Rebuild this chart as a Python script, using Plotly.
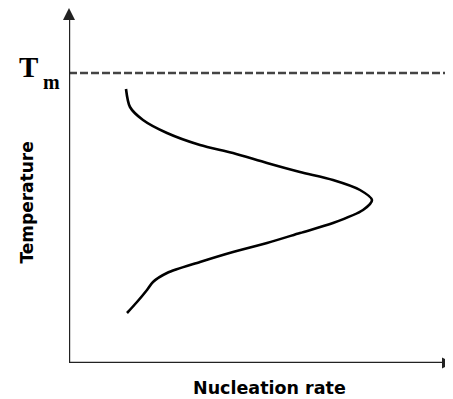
import plotly.graph_objects as go

# Data (arbitrary units): nucleation rate vs temperature
temperature = [274, 256, 243, 230, 218, 210, 200, 191, 183, 173, 163, 153, 140, 130, 120, 111, 101, 90, 81, 73, 61, 50]
nucleation_rate = [57, 61, 74, 98, 131, 164, 198, 231, 264, 291, 303, 294, 264, 231, 198, 164, 131, 98, 84, 78, 68, 58]
melting_temperature = 290
x_max = 384
y_max = 355

# page body has an 8px margin, so the figure is drawn 8px smaller
W, H = 445, 391
L, T_, B = 61, 0, 36
AX_COLOR = "#222222"

fig = go.Figure()
fig.add_trace(go.Scatter(
    x=nucleation_rate, y=temperature, mode="lines",
    line=dict(color="black", width=2.6, shape="spline", smoothing=0.8),
    hoverinfo="skip", showlegend=False,
))

# dashed Tm line
fig.add_shape(type="line", xref="x", yref="y", x0=0, x1=x_max, y0=melting_temperature, y1=melting_temperature,
              line=dict(color="#444444", width=2.5, dash="8px,3px"))

# axis lines
fig.add_shape(type="line", xref="x", yref="y", x0=0, x1=0, y0=0, y1=y_max - 5,
              line=dict(color=AX_COLOR, width=2.4))
fig.add_shape(type="line", xref="x", yref="y", x0=0, x1=x_max - 5, y0=0, y1=0,
              line=dict(color=AX_COLOR, width=2.4))

# arrow heads
fig.add_trace(go.Scatter(x=[0], y=[y_max], mode="markers", cliponaxis=False,
                         marker=dict(symbol="arrow-up", size=12, color=AX_COLOR, line=dict(width=0)),
                         hoverinfo="skip", showlegend=False))
fig.add_trace(go.Scatter(x=[x_max], y=[0], mode="markers", cliponaxis=False,
                         marker=dict(symbol="arrow-right", size=11, color=AX_COLOR, line=dict(width=0)),
                         hoverinfo="skip", showlegend=False))

# labels (paper coords so they are not hidden outside the axis range)
tm_y = melting_temperature / y_max
fig.add_annotation(x=0, y=tm_y, xref="paper", yref="paper", xanchor="right",
                   yanchor="top", xshift=-29, yshift=24, showarrow=False,
                   text="<b>T</b>", font=dict(family="Liberation Serif", size=29, color="black"))
fig.add_annotation(x=0, y=tm_y, xref="paper", yref="paper", xanchor="left",
                   yanchor="top", xshift=-28, yshift=4, showarrow=False,
                   text="<b>m</b>", font=dict(family="Liberation Serif", size=20, color="black"))
fig.add_annotation(x=0.523, y=0, xref="paper", yref="paper", yanchor="top", yshift=-13, showarrow=False,
                   text="<b>Nucleation rate</b>", font=dict(family="DejaVu Sans", size=17.5, color="black"))
fig.add_annotation(x=0, y=0.452, xref="paper", yref="paper", xanchor="right", xshift=-30, showarrow=False,
                   textangle=-90,
                   text="<b>Temperature</b>", font=dict(family="DejaVu Sans", size=17, color="black"))

fig.update_xaxes(range=[0, x_max], visible=False, fixedrange=True)
fig.update_yaxes(range=[0, y_max], visible=False, fixedrange=True)
fig.update_layout(
    width=W, height=H,
    margin=dict(l=L, r=0, t=T_, b=B, pad=0),
    plot_bgcolor="white", paper_bgcolor="white",
)
fig.write_html("out.html")
